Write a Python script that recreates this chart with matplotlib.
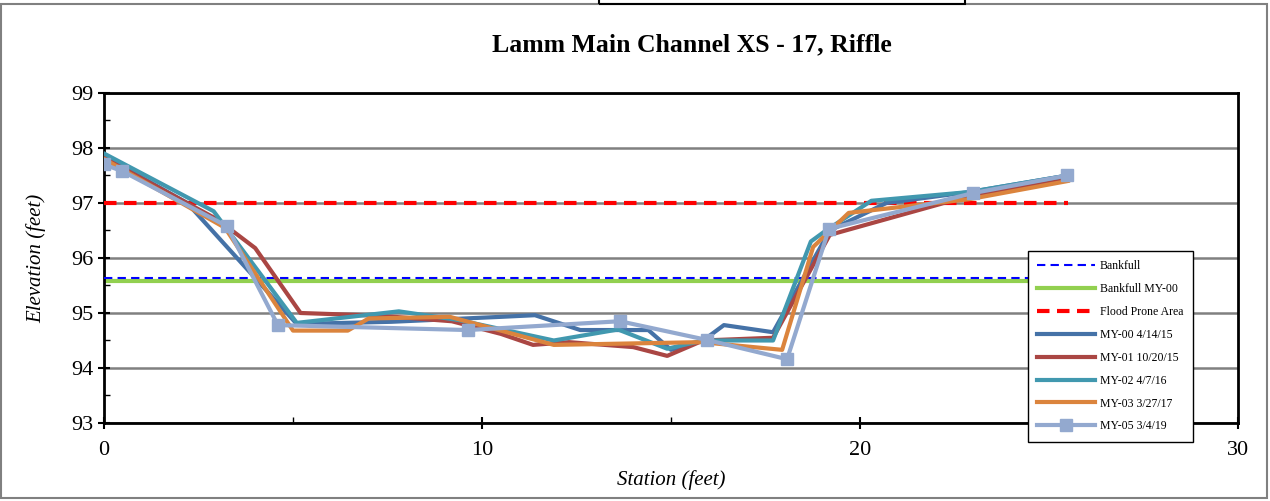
import matplotlib.pyplot as plt
from matplotlib.patches import Rectangle

plt.rcParams['font.family'] = ['Liberation Serif', 'DejaVu Serif']

# survey data, station (ft) vs elevation (ft)
my00_x = [0, 2.2, 5.1, 7.6, 10.5, 11.4, 12.6, 14.4, 15.0, 15.85, 16.4, 17.7, 19.2, 20.7, 22.9, 25.5]
my00_y = [97.85, 97.0, 94.8, 94.84, 94.93, 94.96, 94.69, 94.69, 94.33, 94.5, 94.78, 94.65, 96.5, 97.0, 97.2, 97.5]

my01_x = [0, 3.0, 4.0, 5.2, 7.3, 9.2, 10.5, 11.35, 12.3, 14.0, 14.9, 15.85, 17.7, 19.2, 22.9, 25.5]
my01_y = [97.82, 96.7, 96.18, 95.0, 94.95, 94.85, 94.62, 94.42, 94.47, 94.38, 94.22, 94.5, 94.55, 96.42, 97.13, 97.45]

my02_x = [0, 2.9, 5.1, 7.8, 9.4, 11.9, 13.6, 14.9, 15.85, 17.7, 18.7, 19.1, 20.3, 22.9, 25.5]
my02_y = [97.9, 96.85, 94.82, 95.03, 94.87, 94.5, 94.7, 94.35, 94.5, 94.5, 96.3, 96.5, 97.04, 97.2, 97.5]

my03_x = [0, 3.2, 5.0, 6.45, 7.0, 9.15, 11.9, 15.8, 17.94, 18.76, 19.7, 22.9, 25.5]
my03_y = [97.8, 96.55, 94.68, 94.68, 94.9, 94.93, 94.42, 94.47, 94.33, 96.2, 96.82, 97.07, 97.4]

my05_x = [0, 0.48, 3.25, 4.6, 9.63, 13.65, 15.95, 18.07, 19.18, 22.99, 25.48]
my05_y = [97.7, 97.58, 96.58, 94.78, 94.69, 94.85, 94.51, 94.16, 96.53, 97.18, 97.5]

ref_x = [0, 25.5]
bankfull = 95.63
bankfull_my00 = 95.58
flood_prone = 97.0

fig = plt.figure(figsize=(12.7, 5.01), dpi=100)
ax = fig.add_axes([0.0819, 0.1557, 0.8929, 0.6587])

ax.plot(ref_x, [bankfull] * 2, color='#0000FF', lw=1.5, ls=(0, (4, 2.5)), label='Bankfull', zorder=3)
ax.plot(ref_x, [bankfull_my00] * 2, color='#92D050', lw=3, label='Bankfull MY-00', zorder=2)
ax.plot(ref_x, [flood_prone] * 2, color='#FF0000', lw=3, ls=(0, (3, 1.8)), label='Flood Prone Area', zorder=3)
ax.plot(my00_x, my00_y, color='#4572A7', lw=3, label='MY-00 4/14/15', zorder=4)
ax.plot(my01_x, my01_y, color='#AA4643', lw=3, label='MY-01 10/20/15', zorder=4)
ax.plot(my02_x, my02_y, color='#4198AF', lw=3, label='MY-02 4/7/16', zorder=4)
ax.plot(my03_x, my03_y, color='#DB843D', lw=3, label='MY-03 3/27/17', zorder=4)
ax.plot(my05_x, my05_y, color='#93A9CF', lw=3, marker='s', ms=9, label='MY-05 3/4/19', zorder=5)

ax.set_xlim(0, 30)
ax.set_ylim(93, 99)
ax.set_xticks([0, 10, 20, 30])
ax.set_xticks([5, 15, 25], minor=True)
ax.set_yticks(range(93, 100))
ax.set_yticks([93.5 + i for i in range(6)], minor=True)
ax.yaxis.grid(True, color='#808080', lw=1.8)
ax.set_axisbelow(True)
ax.tick_params(which='major', direction='inout', length=8, width=1.5, labelsize=16, colors='black')
ax.tick_params(which='minor', direction='in', length=4, width=1)
ax.tick_params(axis='x', pad=9)
for s in ax.spines.values():
    s.set_linewidth(2)

ax.set_xlabel('Station (feet)', fontsize=15, style='italic', labelpad=7)
ax.set_ylabel('Elevation (feet)', fontsize=15, style='italic', labelpad=18)
fig.text(0.5445, 0.91, 'Lamm Main Channel XS - 17, Riffle', ha='center', va='center',
         fontsize=18.5, fontweight='bold')

leg = fig.legend(loc='upper left', bbox_to_anchor=(0.8094, 0.499), borderaxespad=0,
                 fontsize=8.5, handlelength=4.9, labelspacing=0.92, borderpad=0.8,
                 handletextpad=0.4, fancybox=False, edgecolor='black', framealpha=1)
leg.get_frame().set_linewidth(1)

# outer chart frame
fig.patches.append(Rectangle((0.001, 0.006), 0.997, 0.986, transform=fig.transFigure,
                             fill=False, edgecolor='#808080', lw=1.5))
fig.patches.append(Rectangle((0.472, 0.993), 0.288, 0.01, transform=fig.transFigure,
                             fill=False, edgecolor='black', lw=1.5))

fig.savefig('out.png', dpi=100)
